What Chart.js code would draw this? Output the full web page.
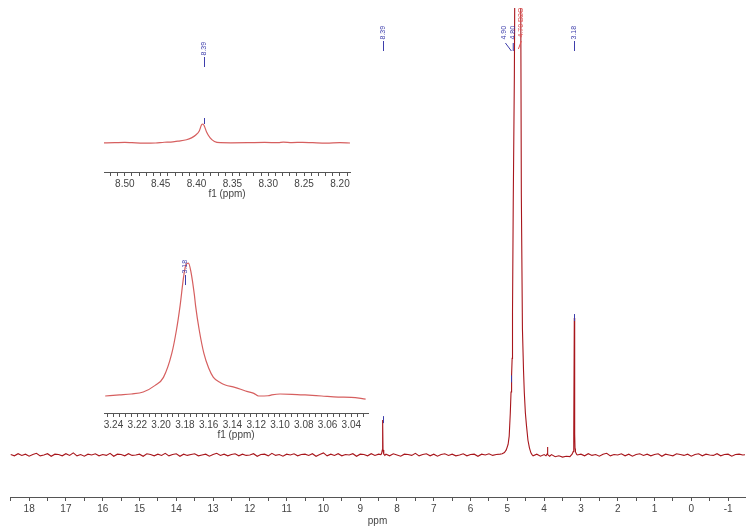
<!DOCTYPE html>
<html>
<head>
<meta charset="utf-8">
<script src="https://cdn.jsdelivr.net/npm/chart.js@4/dist/chart.umd.min.js"></script>
<style>
body { margin: 0; background: #fff; }
#wrap { position: relative; width: 754px; height: 531px; }
canvas { position: absolute; }
</style>
</head>
<body>
<div id="wrap">
  <canvas id="main" width="754" height="531" style="left:0;top:0"></canvas>
  <canvas id="ins1" width="270" height="170" style="left:94px;top:30px"></canvas>
  <canvas id="ins2" width="290" height="205" style="left:94px;top:240px"></canvas>
</div>
<script>
// ---- main spectrum (ppm, intensity), baseline = 0 ----
const noiseStep = 0.1;
const noiseStartA = 18.5; // 18.5 .. 8.5
const noiseA = [0.1,-0.2,0.3,-0.1,0.2,-0.3,0.1,0.4,-0.2,0.0,
  0.3,-0.3,0.2,0.1,-0.2,0.3,-0.1,0.5,-0.2,0.1,
  -0.3,0.2,0.0,0.3,-0.2,0.1,-0.1,0.4,-0.3,0.2,
  0.1,-0.2,0.3,-0.1,0.0,0.2,-0.3,0.3,0.1,-0.2,
  0.2,-0.1,0.4,-0.2,0.1,0.3,-0.3,0.2,-0.1,0.1,
  0.3,-0.2,0.0,0.2,-0.3,0.1,0.4,-0.1,0.2,-0.2,
  0.1,0.3,-0.2,0.2,-0.1,0.0,0.3,-0.3,0.1,0.2,
  -0.2,0.4,-0.1,0.1,-0.3,0.2,0.0,0.3,-0.2,0.1,
  0.2,-0.1,0.3,-0.3,0.1,0.5,-0.2,0.2,-0.1,0.3,
  -0.2,0.1,0.0,0.3,-0.3,0.2,0.1,-0.2,0.3,-0.1,
  0.2];
const peak839 = [[8.44,0.1],[8.42,0.3],[8.40,1.2],[8.39,8.3],[8.38,1.2],[8.36,0.2],[8.33,-0.1]];
const noiseStartB = 8.3; // 8.3 .. 5.2
const noiseB = [0.2,-0.2,0.3,0.0,-0.3,0.2,0.1,-0.1,0.4,-0.2,
  0.1,0.3,-0.2,0.2,-0.3,0.1,0.3,-0.1,0.2,-0.2,
  0.0,0.3,-0.2,0.1,0.2,-0.3,0.2,0.0,0.3,-0.1,
  0.1,0.2];
const waterPeak = [[5.14,0.3],[5.08,0.6],[5.03,1.2],[4.98,2.5],[4.95,4.5],[4.92,10],[4.90,15],
  [4.89,18],[4.88,19],[4.87,23],[4.86,34],[4.84,60],[4.81,90],[4.79,125],[4.73,520],[4.66,200],
  [4.64,120],[4.62,62],[4.59,30],[4.56,20],[4.54,15],[4.51,10],[4.48,7],[4.44,3.5],
  [4.40,1.7],[4.36,0.5],[4.33,0.1]];
const middle = [[4.3,-0.2],[4.2,0.2],[4.1,-0.3],[4.0,0.1],[3.95,-0.2],[3.92,0.2],[3.91,1.9],
  [3.90,0.1],[3.85,-0.3],[3.8,0.1],[3.7,-0.4],[3.6,-0.2],[3.5,-0.5],[3.4,-0.3],[3.3,-0.4],
  [3.24,0.2],[3.21,0.8],[3.20,1.5],[3.19,5],[3.18,32.6],[3.17,5],[3.16,1.5],[3.15,0.8],
  [3.12,0.2],[3.1,0.0]];
const noiseStartD = 3.0; // 3.0 .. -1.5
const noiseD = [0.2,-0.2,0.3,-0.1,0.1,-0.3,0.2,0.4,-0.2,0.1,
  0.0,0.3,-0.2,0.2,-0.3,0.1,0.3,-0.1,0.2,-0.2,
  0.1,0.3,-0.3,0.2,0.0,-0.2,0.3,0.1,-0.1,0.2,
  -0.3,0.1,0.3,-0.2,0.2,0.0,-0.1,0.3,-0.2,0.1,
  0.2,-0.3,0.1,0.2,0.0,0.1];

// ---- inset 1 (8.39 region), peak = 100 ----
const ins1Ppm = [8.531,8.514,8.50,8.49,8.474,8.457,8.445,8.436,8.426,8.414,8.407,8.401,8.396,8.393,
  8.391,8.389,8.386,8.381,8.375,8.367,8.352,8.329,8.305,8.286,8.279,8.267,8.252,8.238,8.219,8.20,8.186];
const ins1Int = [0,1.5,3,1.5,-1,0,4,5,10,17,27,42,65,96,
  100,88,58,27,8,1.5,0.8,1.5,3,1.5,4.6,2.3,3.8,1.5,-1,1.5,0];

// ---- inset 2 (3.18 region), peak = 100 ----
const ins2Ppm = [3.247,3.235,3.225,3.215,3.205,3.198,3.191,3.187,3.184,3.181,3.179,3.177,3.175,3.172,
  3.171,3.168,3.164,3.160,3.156,3.150,3.146,3.138,3.129,3.122,3.118,3.110,3.107,3.100,3.090,
  3.079,3.065,3.051,3.040,3.028];
const ins2Int = [0,0.8,1.5,3,8,14,32,50,68,90,99,100,94,76,
  68,50,32,21,14,10,8.3,6.5,3.8,2,0,0.2,0.8,1.5,1.3,
  0.8,0,-0.8,-1,-2.3];

// peak labels
const mainLabels = [{ppm: 8.39, text: '8.39'}, {ppm: 3.18, text: '3.18'}];
const peakTicks = [{ppm: 8.39, v: 8.3}, {ppm: 3.18, v: 32.6}, {ppm: 4.89, v: 18}];

const blue = '#3d3dab';
const red = '#e25050';
const gray = '#444';
Chart.defaults.font.family = '"Liberation Sans", Arial, sans-serif';

function pts(start, vals) {
  return vals.map((v, i) => ({x: +(start - i * noiseStep).toFixed(2), y: v}));
}
function pairs(arr) { return arr.map(p => ({x: p[0], y: p[1]})); }

const mainData = [].concat(pts(noiseStartA, noiseA), pairs(peak839), pts(noiseStartB, noiseB),
  pairs(waterPeak), pairs(middle), pts(noiseStartD, noiseD));

function vText(ctx, x, yBottom, text, color, lineLen) {
  ctx.save();
  ctx.translate(x, yBottom);
  ctx.rotate(-Math.PI / 2);
  ctx.strokeStyle = color;
  ctx.fillStyle = color;
  ctx.lineWidth = 1;
  if (lineLen > 0) {
    ctx.beginPath(); ctx.moveTo(0, 0); ctx.lineTo(lineLen, 0); ctx.stroke();
  }
  ctx.font = '7px "Liberation Sans"';
  ctx.textBaseline = 'middle';
  ctx.textAlign = 'left';
  ctx.fillText(text, lineLen + 1.5, 0);
  ctx.restore();
}
function seg(ctx, x1, y1, x2, y2, color) {
  ctx.save();
  ctx.strokeStyle = color; ctx.lineWidth = 1;
  ctx.beginPath(); ctx.moveTo(x1, y1); ctx.lineTo(x2, y2); ctx.stroke();
  ctx.restore();
}

const mainAnno = {
  id: 'mainAnno',
  afterDatasetsDraw(chart) {
    const ctx = chart.ctx, xs = chart.scales.x, ys = chart.scales.y;
    mainLabels.forEach(l => vText(ctx, Math.round(xs.getPixelForValue(l.ppm)) + 0.5, 51, l.text, blue, 10));
    peakTicks.forEach(p => {
      const x = Math.round(xs.getPixelForValue(p.ppm)) + 0.5, y = ys.getPixelForValue(p.v);
      seg(ctx, x, y - 4, x, y + 3, blue);
    });
    // multiplet labels around the water signal
    const x490 = xs.getPixelForValue(5.08), x480 = xs.getPixelForValue(4.84), xD = xs.getPixelForValue(4.62);
    vText(ctx, x490, 41, '4.90', blue, 0);
    vText(ctx, x480, 41, '4.80', blue, 0);
    seg(ctx, x490 + 1, 43, xs.getPixelForValue(4.89), 51, blue);
    seg(ctx, x480, 43, x480, 51, blue);
    vText(ctx, xD, 39, '4.70 D2O', red, 0);
    seg(ctx, xD, 41, xs.getPixelForValue(4.70), 49, red);
  }
};

function insetAnno(ppm, mode) {
  return {
    id: 'insAnno' + mode,
    afterDatasetsDraw(chart) {
      const ctx = chart.ctx, xs = chart.scales.x, ys = chart.scales.y;
      const x = Math.round(xs.getPixelForValue(ppm)) + 0.5, y = ys.getPixelForValue(100);
      if (mode === 1) {
        vText(ctx, x, 37, ppm.toFixed(2), blue, 10);
        seg(ctx, x, y - 6, x, y, blue);
      } else {
        vText(ctx, x, y + 22, ppm.toFixed(2), blue, 10);
      }
    }
  };
}

function xAxis(min, max, step, labelEvery, decimals, height, titleText, titlePad, fontSize) {
  return {
    type: 'linear', reverse: true, min: min, max: max,
    afterFit: s => { s.height = height; },
    border: {color: '#555', width: 1},
    grid: {drawOnChartArea: false, drawTicks: true, tickLength: 4, color: '#555'},
    ticks: {
      stepSize: step, autoSkip: false, includeBounds: false, maxRotation: 0, padding: 2,
      color: gray, font: {size: fontSize},
      callback: v => {
        const k = Math.round(v / step);
        return (k % labelEvery === 0) ? (decimals ? v.toFixed(decimals) : String(Math.round(v))) : '';
      }
    },
    title: {display: true, text: titleText, color: gray, font: {size: fontSize}, padding: {top: 0, bottom: titlePad}}
  };
}

function opts(x, ymin, ymax, padding) {
  return {
    responsive: false, animation: false, events: [],
    layout: {padding: padding},
    plugins: {legend: {display: false}, tooltip: {enabled: false}},
    scales: {x: x, y: {display: false, min: ymin, max: ymax}}
  };
}

new Chart(document.getElementById('main'), {
  type: 'line',
  data: {datasets: [{data: mainData, borderColor: '#a8161c', borderWidth: 1.1, pointRadius: 0, tension: 0}]},
  options: opts(xAxis(-1.46, 18.52, 0.5, 2, 0, 34, 'ppm', 4, 10), -10, 106.4, {left: 10, right: 9, top: 8, bottom: 0}),
  plugins: [mainAnno]
});

new Chart(document.getElementById('ins1'), {
  type: 'line',
  data: {datasets: [{data: ins1Ppm.map((p, i) => ({x: p, y: ins1Int[i]})), borderColor: '#d65f5f', borderWidth: 1.2, pointRadius: 0, cubicInterpolationMode: 'monotone'}]},
  options: opts(xAxis(8.186, 8.529, 0.01, 5, 2, 28, 'f1 (ppm)', 0, 10), -152.6, 173.7, {left: 10, right: 14, top: 80, bottom: 0}),
  plugins: [insetAnno(8.39, 1)]
});

new Chart(document.getElementById('ins2'), {
  type: 'line',
  data: {datasets: [{data: ins2Ppm.map((p, i) => ({x: p, y: ins2Int[i]})), borderColor: '#d65f5f', borderWidth: 1.2, pointRadius: 0, cubicInterpolationMode: 'monotone'}]},
  options: opts(xAxis(3.026, 3.248, 0.005, 4, 2, 32, 'f1 (ppm)', 4, 10), -12.78, 109.8, {left: 10, right: 16, top: 10, bottom: 0}),
  plugins: [insetAnno(3.18, 2)]
});
</script>
</body>
</html>
